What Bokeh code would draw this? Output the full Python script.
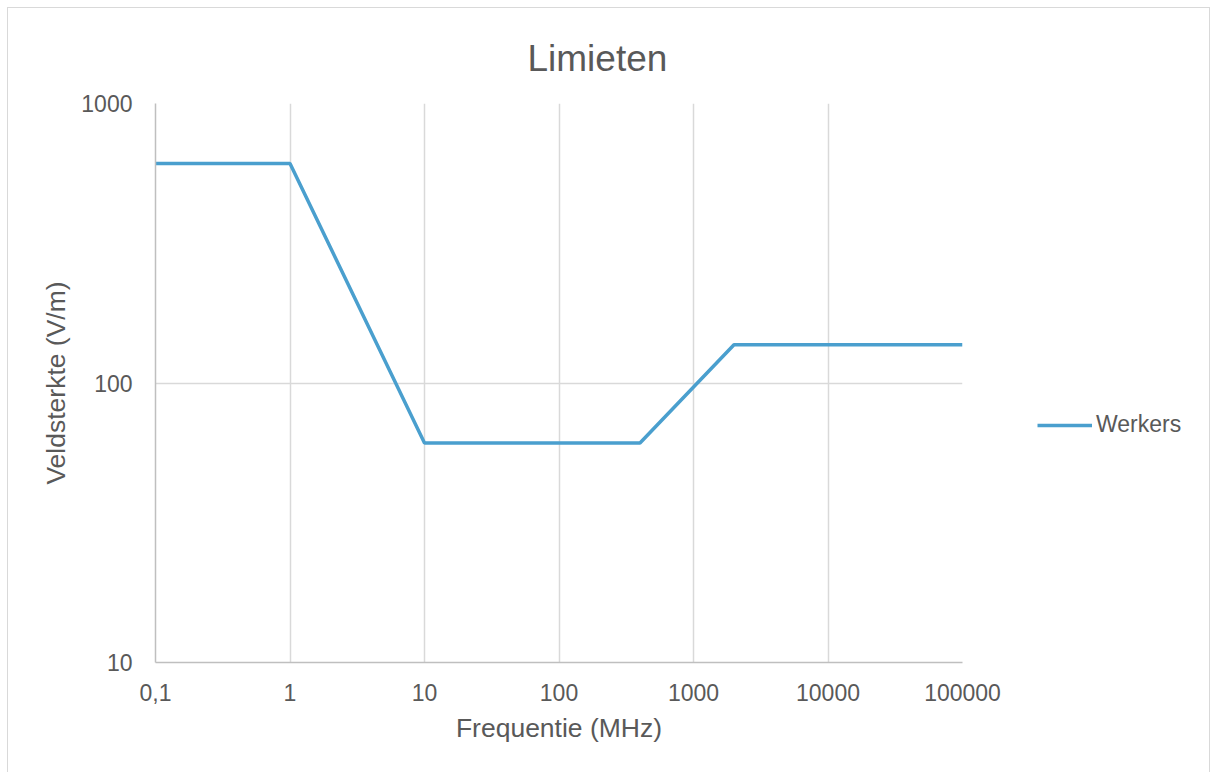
from bokeh.plotting import figure
from bokeh.models import (FixedTicker, CustomJSTickFormatter, Legend, LegendItem,
                          Title, Range1d, InlineStyleSheet)
from bokeh.embed import file_html
from bokeh.resources import INLINE

# Field strength limits for workers (V/m) versus frequency (MHz)
freq_mhz = [0.1, 1, 10, 400, 2000, 100000]
field_vm = [610, 610, 61, 61, 137, 137]

x_ticks = [0.1, 1, 10, 100, 1000, 10000, 100000]
x_tick_labels = ["0,1", "1", "10", "100", "1000", "10000", "100000"]
y_ticks = [10, 100, 1000]

FONT = "Liberation Sans"
TEXT = "#595959"
GRID = "#d9d9d9"
AXIS = "#bfbfbf"
LINE = "#4a9fce"

p = figure(frame_width=807, frame_height=559, x_axis_type="log", y_axis_type="log",
           x_range=Range1d(0.1, 100000), y_range=Range1d(10, 1000),
           output_backend="svg", toolbar_location=None,
           min_border_left=155, min_border_right=252,
           min_border_top=103, min_border_bottom=110)
p.outline_line_color = None
p.background_fill_color = "white"
p.border_fill_color = "white"

r = p.line(freq_mhz, field_vm, line_color=LINE, line_width=3.5)

# axes
xa = p.xaxis[0]
xa.ticker = FixedTicker(ticks=x_ticks, minor_ticks=[])
xa.formatter = CustomJSTickFormatter(args=dict(labels=x_tick_labels), code="""
    const i = Math.round(Math.log10(tick)) + 1;
    return labels[i];
""")
ya = p.yaxis[0]
ya.ticker = FixedTicker(ticks=y_ticks, minor_ticks=[])
ya.formatter = CustomJSTickFormatter(code="return Math.round(tick).toString();")

for ax in (xa, ya):
    ax.axis_line_color = AXIS
    ax.axis_line_width = 1.5
    ax.major_tick_line_color = None
    ax.minor_tick_line_color = None
    ax.major_label_text_font = FONT
    ax.major_label_text_font_size = "23px"
    ax.major_label_text_color = TEXT
    ax.axis_label_text_font = FONT
    ax.axis_label_text_font_size = "26.5px"
    ax.axis_label_text_font_style = "normal"
    ax.axis_label_text_color = TEXT

xa.axis_label = "Frequentie (MHz)"
ya.axis_label = "Veldsterkte (V/m)"
xa.major_label_standoff = 15
ya.major_label_standoff = 17
xa.axis_label_standoff = 9
ya.axis_label_standoff = 7

p.xgrid.ticker = FixedTicker(ticks=x_ticks, minor_ticks=[])
p.ygrid.ticker = FixedTicker(ticks=y_ticks, minor_ticks=[])
for g in (p.xgrid[0], p.ygrid[0]):
    g.grid_line_color = GRID
    g.grid_line_width = 1.5

# title
p.title = Title(text="Limieten", align="left", offset=372, text_font=FONT,
                text_font_size="37px", text_font_style="normal",
                text_color=TEXT, standoff=50)

# legend to the right of the plot area
legend = Legend(items=[LegendItem(label="Werkers", renderers=[r])],
                location=(75, 224), margin=0, padding=0,
                label_text_font=FONT, label_text_font_size="23px",
                label_text_color=TEXT, glyph_width=55, label_standoff=4,
                border_line_color=None, background_fill_alpha=0)
p.add_layout(legend, "right")

# thin chart border
p.stylesheets = [InlineStyleSheet(css="""
:host { position: relative; }
:host::after {
  content: ""; position: absolute; left: 7px; top: 7px;
  width: 1203px; height: 800px; border: 1.5px solid #d9d9d9;
  pointer-events: none; box-sizing: border-box;
}
""")]

open("out.html", "w").write(file_html(p, INLINE))
